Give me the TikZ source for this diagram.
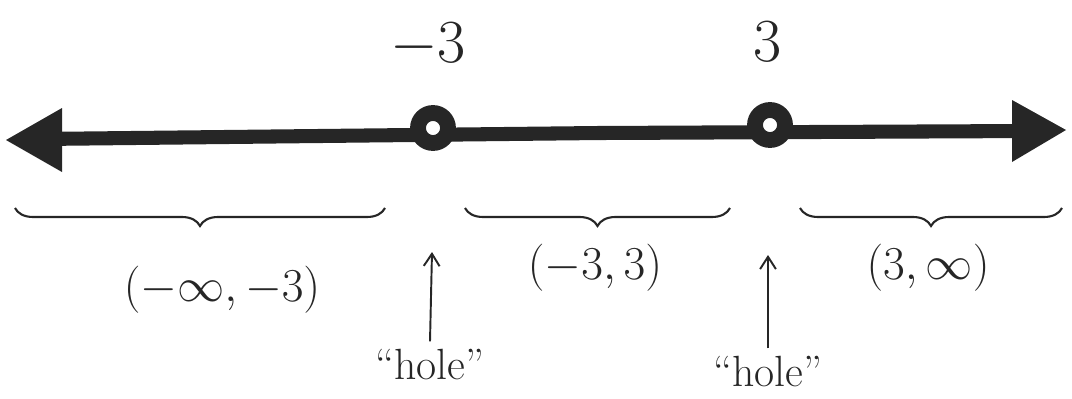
\documentclass[tikz,border=0pt]{standalone}
\usetikzlibrary{arrows.meta,decorations.pathreplacing}

\begin{document}
\begin{tikzpicture}[
    x=0.02cm, y=-0.02cm,
    numline/.style={draw=black!85, line width=8pt},
    holebox/.style={circle, draw=black!85, fill=white, line width=9pt, minimum size=0.6cm, inner sep=0pt},
    bracebox/.style={decorate, decoration={brace, mirror, amplitude=0.36cm}, line width=1.2pt, draw=black!85},
    pointer/.style={->, >={Straight Barb[length=7pt, width=9pt]}, line width=1.1pt, draw=black!85},
    tick/.style={font=\Huge, scale=1.4, inner sep=1pt, text=black!85},
    interval/.style={font=\Huge, scale=1.08, text=black!85},
    holelabel/.style={font=\Huge, text=black!85}
]
\useasboundingbox (0,0) rectangle (1072,399);

% the number line
\coordinate (left) at (6,140);
\coordinate (right) at (1066,130);
\coordinate (mid) at (600,133);
\draw[numline] (mid) -- (40,139);
\draw[numline] (mid) -- (1030,131);
\fill[black!85] (left) -- (62,108) -- (62,172) -- cycle;
\fill[black!85] (right) -- (1012,100) -- (1012,162) -- cycle;

% holes
\node[holebox] (holeA) at (433,128) {};
\node[holebox] (holeB) at (770,125) {};

% tick labels
\node[tick] (tickA) at (428,45) {$-3$};
\node[tick] (tickB) at (768,42) {$3$};

% braces
\draw[bracebox] (15,208) -- (385,208);
\draw[bracebox] (465,208) -- (730,208);
\draw[bracebox] (800,208) -- (1062,208);

% intervals
\node[interval] (intA) at (222,290) {$(-\infty,-3)$};
\node[interval] (intB) at (595,268) {$(-3,3)$};
\node[interval] (intC) at (928,268) {$(3,\infty)$};

% holes pointed out
\node[holelabel] (holeTxtA) at (430,365) {``hole''};
\node[holelabel] (holeTxtB) at (768,372) {``hole''};
\coordinate (tipA) at (432,252);
\coordinate (tipB) at (768,255);
\draw[pointer] (holeTxtA.north) ++(0,-2) -- (tipA);
\draw[pointer] (holeTxtB.north) ++(0,-2) -- (tipB);

\end{tikzpicture}
\end{document}
